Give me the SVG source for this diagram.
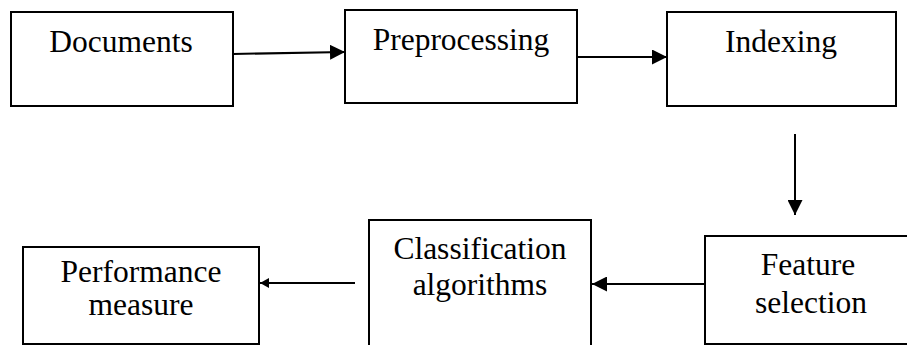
<svg xmlns="http://www.w3.org/2000/svg" width="907" height="345" viewBox="0 0 907 345">
  <style>
    .box { fill: #ffffff; stroke: #000000; stroke-width: 2; }
    .label { font-family: 'Liberation Serif', Tinos, 'Times New Roman', 'DejaVu Serif', serif; font-size: 31.5px; fill: #000000; text-anchor: middle; }
    .edge { stroke: #000000; stroke-width: 2; fill: none; }
  </style>
  <defs>
    <marker id="head" viewBox="0 0 15 15" refX="15" refY="7.5" markerWidth="15" markerHeight="15" markerUnits="userSpaceOnUse" orient="auto">
      <path d="M0,0 L15,7.5 L0,15 Z" fill="#000000"/>
    </marker>
    <marker id="head-small" viewBox="0 0 9 10" refX="9" refY="5" markerWidth="9" markerHeight="10" markerUnits="userSpaceOnUse" orient="auto">
      <path d="M0,0 L9,5 L0,10 Z" fill="#000000"/>
    </marker>
  </defs>

  <rect width="907" height="345" fill="#ffffff"/>

  <g id="documents">
    <rect class="box" x="11" y="12" width="222" height="94"/>
    <text class="label" x="121" y="52">Documents</text>
  </g>

  <g id="preprocessing">
    <rect class="box" x="345" y="10" width="232" height="93"/>
    <text class="label" x="461" y="50">Preprocessing</text>
  </g>

  <g id="indexing">
    <rect class="box" x="667" y="12" width="229" height="94"/>
    <text class="label" x="781" y="52">Indexing</text>
  </g>

  <g id="feature-selection">
    <rect class="box" x="705" y="236" width="215" height="108"/>
    <text class="label" x="808" y="275">Feature</text>
    <text class="label" x="811" y="313">selection</text>
  </g>

  <g id="classification-algorithms">
    <rect class="box" x="369" y="220" width="222" height="135"/>
    <text class="label" x="480" y="259">Classification</text>
    <text class="label" x="480" y="295">algorithms</text>
  </g>

  <g id="performance-measure">
    <rect class="box" x="23" y="247" width="236" height="97"/>
    <text class="label" x="141" y="282">Performance</text>
    <text class="label" x="141" y="315">measure</text>
  </g>

  <g id="connectors">
    <line class="edge" x1="233" y1="54" x2="345" y2="52" marker-end="url(#head)"/>
    <line class="edge" x1="577" y1="57" x2="667" y2="57" marker-end="url(#head)"/>
    <line class="edge" x1="795" y1="134" x2="795" y2="215" marker-end="url(#head)"/>
    <line class="edge" x1="705" y1="284" x2="592" y2="284" marker-end="url(#head)"/>
    <line class="edge" x1="355" y1="283" x2="260" y2="283" marker-end="url(#head-small)"/>
  </g>
</svg>
